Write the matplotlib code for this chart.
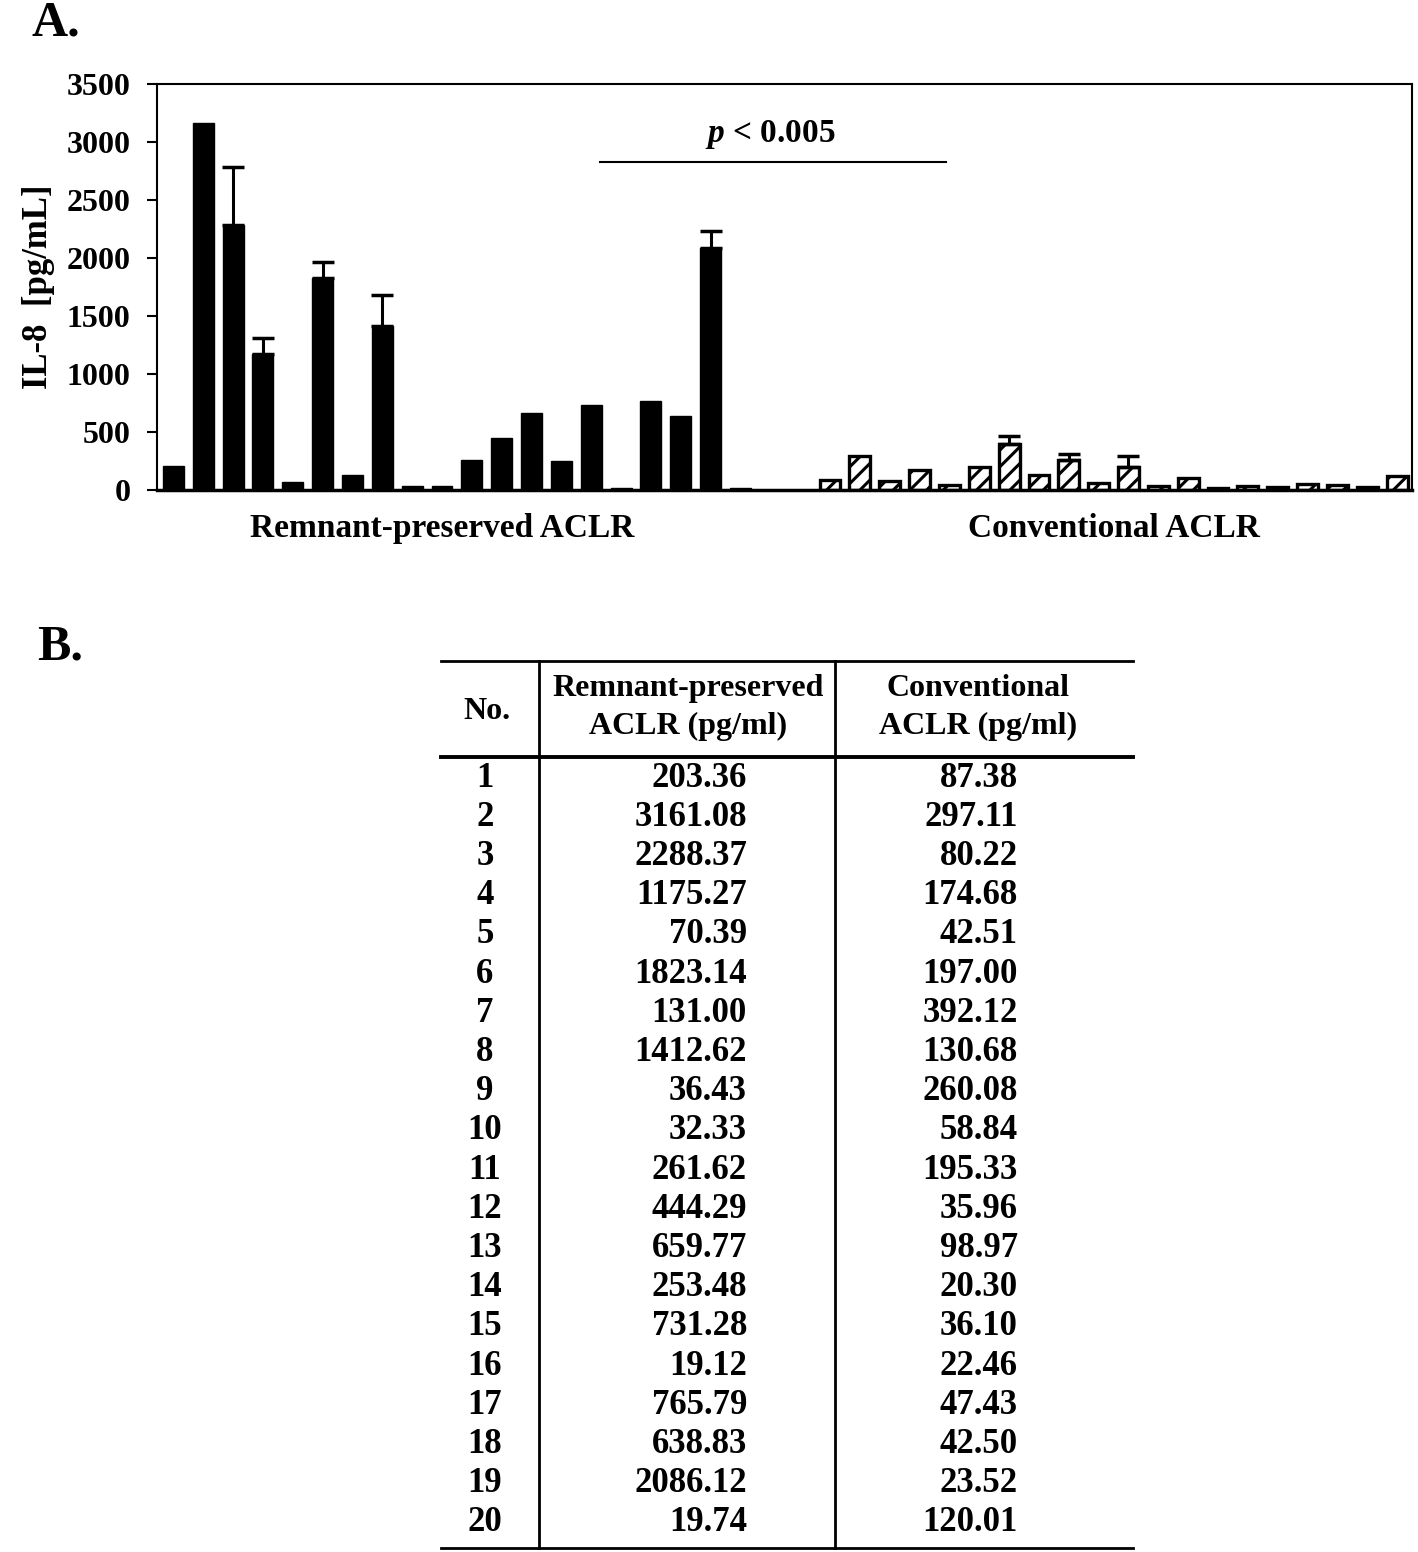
import matplotlib
matplotlib.use("Agg")
import matplotlib.pyplot as plt
import numpy as np

plt.rcParams['font.family'] = ['Liberation Serif', 'DejaVu Serif']
plt.rcParams['hatch.linewidth'] = 2.2
plt.rcParams['mathtext.fontset'] = 'custom'
plt.rcParams['mathtext.it'] = 'Liberation Serif:italic:bold'
plt.rcParams['mathtext.rm'] = 'Liberation Serif:bold'

case_no = list(range(1, 21))
remnant = [203.36, 3161.08, 2288.37, 1175.27, 70.39, 1823.14, 131.00, 1412.62, 36.43, 32.33,
           261.62, 444.29, 659.77, 253.48, 731.28, 19.12, 765.79, 638.83, 2086.12, 19.74]
conventional = [87.38, 297.11, 80.22, 174.68, 42.51, 197.00, 392.12, 130.68, 260.08, 58.84,
                195.33, 35.96, 98.97, 20.30, 36.10, 22.46, 47.43, 42.50, 23.52, 120.01]
remnant_err = [0, 0, 500, 135, 0, 145, 0, 270, 0, 0, 0, 0, 0, 0, 0, 0, 0, 0, 150, 0]
conventional_err = [0, 0, 0, 0, 0, 0, 70, 0, 50, 0, 100, 0, 0, 0, 0, 0, 0, 0, 0, 0]
yticks = [0, 500, 1000, 1500, 2000, 2500, 3000, 3500]
group_labels = ["Remnant-preserved ACLR", "Conventional ACLR"]
p_text = "$\\mathit{p}$ < 0.005"

fig = plt.figure(figsize=(14.18, 15.52), dpi=100)

# ---------------- Panel A ----------------
ax = fig.add_axes([0.1107, 0.6843, 0.8851, 0.2616])
x_rem = np.arange(20)
x_con = np.arange(20) + 22
bw = 0.7
ax.bar(x_rem, remnant, width=bw, color='black', edgecolor='black', linewidth=1)
ax.bar(x_con, conventional, width=bw, color='white', edgecolor='black', linewidth=2.4, hatch='//')

rem_err = np.array(remnant_err)
m = rem_err > 0
ax.errorbar(x_rem[m], np.array(remnant)[m], yerr=[np.zeros(m.sum()), rem_err[m]],
            fmt='none', ecolor='black', elinewidth=2.2, capsize=8, capthick=2.5)
con_err = np.array(conventional_err)
m2 = con_err > 0
ax.errorbar(x_con[m2], np.array(conventional)[m2], yerr=[np.zeros(m2.sum()), con_err[m2]],
            fmt='none', ecolor='black', elinewidth=2.2, capsize=8, capthick=2.5)

ax.set_xlim(-0.55, 41.5)
ax.set_ylim(0, 3500)
ax.set_yticks(yticks)
ax.set_yticklabels([str(t) for t in yticks], fontsize=23, fontweight='bold')
ax.set_xticks([])
ax.tick_params(axis='y', direction='out', length=7, width=1.5, pad=12)
for s in ax.spines.values():
    s.set_linewidth(1.5)
ax.spines['bottom'].set_linewidth(2.5)
ax.set_ylabel("IL-8  [pg/mL]", fontsize=25, fontweight='bold', labelpad=8)

# significance line
ax.plot([14.3, 25.9], [2830, 2830], color='black', lw=1.5)
ax.text(20.0, 2920, p_text, ha='center', va='bottom', fontsize=24, fontweight='bold')

# group labels
ax.text(9.0, -330, group_labels[0], ha='center', va='center', fontsize=24, fontweight='bold')
ax.text(31.5, -330, group_labels[1], ha='center', va='center', fontsize=24, fontweight='bold')

fig.text(0.022, 0.985, "A.", fontsize=36, fontweight='bold', va='center', ha='left')
fig.text(0.026, 0.583, "B.", fontsize=36, fontweight='bold', va='center', ha='left')

# ---------------- Panel B (table) ----------------
tx = fig.add_axes([0.311, 0.0026, 0.488, 0.5715])
tx.set_xlim(0, 692)
tx.set_ylim(20.18, -2.45)
tx.axis('off')

lw = 2
tx.plot([0, 692], [-2.45, -2.45], color='black', lw=lw, clip_on=False)
tx.plot([0, 692], [0, 0], color='black', lw=2.8, clip_on=False)
tx.plot([0, 692], [20.18, 20.18], color='black', lw=lw, clip_on=False)
tx.plot([98, 98], [-2.45, 20.18], color='black', lw=lw, clip_on=False)
tx.plot([394, 394], [-2.45, 20.18], color='black', lw=lw, clip_on=False)

hfs = 23
tx.text(46, -1.17, "No.", ha='center', va='center', fontsize=hfs, fontweight='bold')
tx.text(247, -1.76, "Remnant-preserved", ha='center', va='center', fontsize=hfs, fontweight='bold')
tx.text(247, -0.77, "ACLR (pg/ml)", ha='center', va='center', fontsize=hfs, fontweight='bold')
tx.text(537, -1.76, "Conventional", ha='center', va='center', fontsize=hfs, fontweight='bold')
tx.text(537, -0.77, "ACLR (pg/ml)", ha='center', va='center', fontsize=hfs, fontweight='bold')

vfs = 25
for i, (n, r, c) in enumerate(zip(case_no, remnant, conventional)):
    y = 0.54 + i
    tx.text(44, y, str(n), ha='center', va='center', fontsize=vfs, fontweight='bold')
    tx.text(306, y, f"{r:.2f}", ha='right', va='center', fontsize=vfs, fontweight='bold')
    tx.text(577, y, f"{c:.2f}", ha='right', va='center', fontsize=vfs, fontweight='bold')

fig.savefig("out.png", dpi=100)
